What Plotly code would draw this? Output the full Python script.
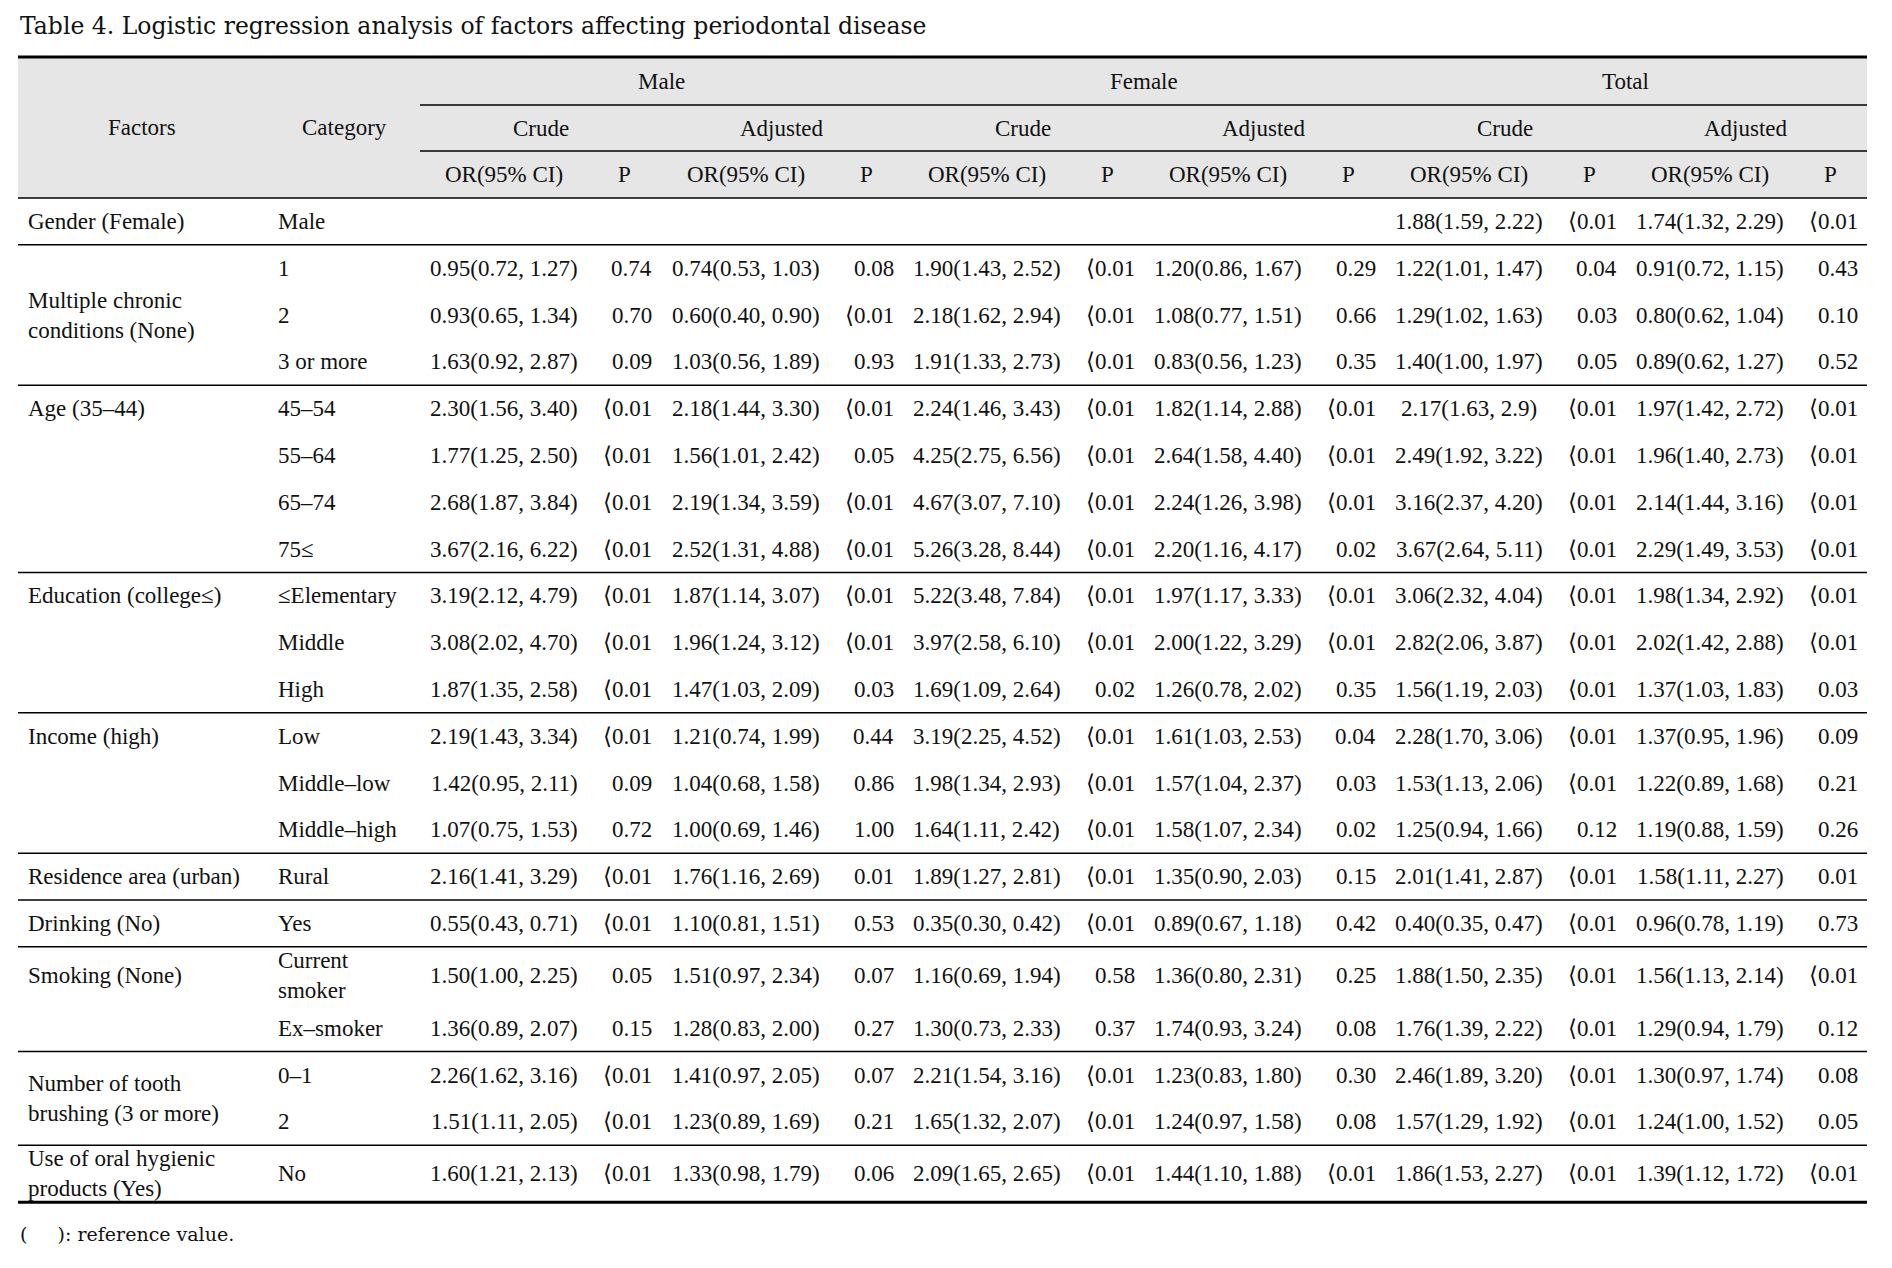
import plotly.graph_objects as go

# ---------------- data ----------------
title_text = "Table 4. Logistic regression analysis of factors affecting periodontal disease"
footnote_text = "(\u00a0\u00a0\u00a0\u00a0\u00a0): reference value."

groups = ["Male", "Female", "Total"]
subgroups = ["Crude", "Adjusted"]
col_heads = ["OR(95% CI)", "P"]
factor_head = "Factors"
category_head = "Category"

factors = ["Gender (Female)", "Multiple chronic<br>conditions (None)", "Age (35\u201344)",
           "Education (college\u2264)", "Income (high)", "Residence area (urban)",
           "Drinking (No)", "Smoking (None)", "Number of tooth<br>brushing (3 or more)",
           "Use of oral hygienic<br>products (Yes)"]
factor_spans = [1, 3, 4, 3, 3, 1, 1, 2, 2, 1]
factor_label_mode = ["center", "center", "top", "top", "top", "center", "center", "top", "center", "center"]

categories = ["Male", "1", "2", "3 or more", "45\u201354", "55\u201364", "65\u201374", "75\u2264",
              "\u2264Elementary", "Middle", "High", "Low", "Middle\u2013low", "Middle\u2013high",
              "Rural", "Yes", "Current<br>smoker", "Ex\u2013smoker", "0\u20131", "2", "No"]

LT = "\u27e8"
male_crude_or = ["", "0.95(0.72, 1.27)", "0.93(0.65, 1.34)", "1.63(0.92, 2.87)", "2.30(1.56, 3.40)",
                 "1.77(1.25, 2.50)", "2.68(1.87, 3.84)", "3.67(2.16, 6.22)", "3.19(2.12, 4.79)",
                 "3.08(2.02, 4.70)", "1.87(1.35, 2.58)", "2.19(1.43, 3.34)", "1.42(0.95, 2.11)",
                 "1.07(0.75, 1.53)", "2.16(1.41, 3.29)", "0.55(0.43, 0.71)", "1.50(1.00, 2.25)",
                 "1.36(0.89, 2.07)", "2.26(1.62, 3.16)", "1.51(1.11, 2.05)", "1.60(1.21, 2.13)"]
male_crude_p = ["", "0.74", "0.70", "0.09", "<0.01", "<0.01", "<0.01", "<0.01", "<0.01", "<0.01",
                "<0.01", "<0.01", "0.09", "0.72", "<0.01", "<0.01", "0.05", "0.15", "<0.01", "<0.01", "<0.01"]
male_adj_or = ["", "0.74(0.53, 1.03)", "0.60(0.40, 0.90)", "1.03(0.56, 1.89)", "2.18(1.44, 3.30)",
               "1.56(1.01, 2.42)", "2.19(1.34, 3.59)", "2.52(1.31, 4.88)", "1.87(1.14, 3.07)",
               "1.96(1.24, 3.12)", "1.47(1.03, 2.09)", "1.21(0.74, 1.99)", "1.04(0.68, 1.58)",
               "1.00(0.69, 1.46)", "1.76(1.16, 2.69)", "1.10(0.81, 1.51)", "1.51(0.97, 2.34)",
               "1.28(0.83, 2.00)", "1.41(0.97, 2.05)", "1.23(0.89, 1.69)", "1.33(0.98, 1.79)"]
male_adj_p = ["", "0.08", "<0.01", "0.93", "<0.01", "0.05", "<0.01", "<0.01", "<0.01", "<0.01",
              "0.03", "0.44", "0.86", "1.00", "0.01", "0.53", "0.07", "0.27", "0.07", "0.21", "0.06"]
female_crude_or = ["", "1.90(1.43, 2.52)", "2.18(1.62, 2.94)", "1.91(1.33, 2.73)", "2.24(1.46, 3.43)",
                   "4.25(2.75, 6.56)", "4.67(3.07, 7.10)", "5.26(3.28, 8.44)", "5.22(3.48, 7.84)",
                   "3.97(2.58, 6.10)", "1.69(1.09, 2.64)", "3.19(2.25, 4.52)", "1.98(1.34, 2.93)",
                   "1.64(1.11, 2.42)", "1.89(1.27, 2.81)", "0.35(0.30, 0.42)", "1.16(0.69, 1.94)",
                   "1.30(0.73, 2.33)", "2.21(1.54, 3.16)", "1.65(1.32, 2.07)", "2.09(1.65, 2.65)"]
female_crude_p = ["", "<0.01", "<0.01", "<0.01", "<0.01", "<0.01", "<0.01", "<0.01", "<0.01", "<0.01",
                  "0.02", "<0.01", "<0.01", "<0.01", "<0.01", "<0.01", "0.58", "0.37", "<0.01", "<0.01", "<0.01"]
female_adj_or = ["", "1.20(0.86, 1.67)", "1.08(0.77, 1.51)", "0.83(0.56, 1.23)", "1.82(1.14, 2.88)",
                 "2.64(1.58, 4.40)", "2.24(1.26, 3.98)", "2.20(1.16, 4.17)", "1.97(1.17, 3.33)",
                 "2.00(1.22, 3.29)", "1.26(0.78, 2.02)", "1.61(1.03, 2.53)", "1.57(1.04, 2.37)",
                 "1.58(1.07, 2.34)", "1.35(0.90, 2.03)", "0.89(0.67, 1.18)", "1.36(0.80, 2.31)",
                 "1.74(0.93, 3.24)", "1.23(0.83, 1.80)", "1.24(0.97, 1.58)", "1.44(1.10, 1.88)"]
female_adj_p = ["", "0.29", "0.66", "0.35", "<0.01", "<0.01", "<0.01", "0.02", "<0.01", "<0.01",
                "0.35", "0.04", "0.03", "0.02", "0.15", "0.42", "0.25", "0.08", "0.30", "0.08", "<0.01"]
total_crude_or = ["1.88(1.59, 2.22)", "1.22(1.01, 1.47)", "1.29(1.02, 1.63)", "1.40(1.00, 1.97)",
                  "2.17(1.63, 2.9)", "2.49(1.92, 3.22)", "3.16(2.37, 4.20)", "3.67(2.64, 5.11)",
                  "3.06(2.32, 4.04)", "2.82(2.06, 3.87)", "1.56(1.19, 2.03)", "2.28(1.70, 3.06)",
                  "1.53(1.13, 2.06)", "1.25(0.94, 1.66)", "2.01(1.41, 2.87)", "0.40(0.35, 0.47)",
                  "1.88(1.50, 2.35)", "1.76(1.39, 2.22)", "2.46(1.89, 3.20)", "1.57(1.29, 1.92)",
                  "1.86(1.53, 2.27)"]
total_crude_p = ["<0.01", "0.04", "0.03", "0.05", "<0.01", "<0.01", "<0.01", "<0.01", "<0.01", "<0.01",
                 "<0.01", "<0.01", "<0.01", "0.12", "<0.01", "<0.01", "<0.01", "<0.01", "<0.01", "<0.01", "<0.01"]
total_adj_or = ["1.74(1.32, 2.29)", "0.91(0.72, 1.15)", "0.80(0.62, 1.04)", "0.89(0.62, 1.27)",
                "1.97(1.42, 2.72)", "1.96(1.40, 2.73)", "2.14(1.44, 3.16)", "2.29(1.49, 3.53)",
                "1.98(1.34, 2.92)", "2.02(1.42, 2.88)", "1.37(1.03, 1.83)", "1.37(0.95, 1.96)",
                "1.22(0.89, 1.68)", "1.19(0.88, 1.59)", "1.58(1.11, 2.27)", "0.96(0.78, 1.19)",
                "1.56(1.13, 2.14)", "1.29(0.94, 1.79)", "1.30(0.97, 1.74)", "1.24(1.00, 1.52)",
                "1.39(1.12, 1.72)"]
total_adj_p = ["<0.01", "0.43", "0.10", "0.52", "<0.01", "<0.01", "<0.01", "<0.01", "<0.01", "<0.01",
               "0.03", "0.09", "0.21", "0.26", "0.01", "0.73", "<0.01", "0.12", "0.08", "0.05", "<0.01"]

value_columns = [
    (male_crude_or, male_crude_p), (male_adj_or, male_adj_p),
    (female_crude_or, female_crude_p), (female_adj_or, female_adj_p),
    (total_crude_or, total_crude_p), (total_adj_or, total_adj_p),
]

# ---------------- layout constants ----------------
W, H = 1892, 1268
FONT = "Liberation Serif"
TITLE_FONT = "DejaVu Serif"
FS = 23
INK = "#111111"
TBL_L, TBL_R = 18, 1867
TOP, SUB1, SUB2, HDR_BOT = 57, 105, 151, 198
GRP_L = 420
STD_H = 46.8
row_heights = [STD_H] * 16 + [58, STD_H, STD_H, STD_H, 57]
FACTOR_X, CAT_X = 26, 276
FACTOR_HEAD_X, CAT_HEAD_X = 142, 344
OR_FRAC, PH_FRAC, PV_FRAC = 0.35, 0.85, 0.972

sub_w = (TBL_R - GRP_L) / 6.0

# row boundaries
bounds = [HDR_BOT]
for h in row_heights:
    bounds.append(bounds[-1] + h)
centers = [(bounds[i] + bounds[i + 1]) / 2 for i in range(len(row_heights))]

fig = go.Figure()
fig.add_trace(go.Scatter(x=[0, W], y=[0, H], mode="markers", marker=dict(opacity=0), hoverinfo="skip", showlegend=False))

ann = []
shapes = []

def text(x, y, s, anchor="center", size=FS, family=FONT, yanchor="middle"):
    ann.append(dict(x=x, y=y, xref="x", yref="y", text=s, showarrow=False, xanchor=anchor,
                    yanchor=yanchor, font=dict(family=family, size=size, color=INK),
                    align="left" if anchor == "left" else "center"))

def hline(y, x0, x1, w):
    shapes.append(dict(type="line", xref="x", yref="y", x0=x0, x1=x1, y0=y, y1=y,
                       line=dict(color="#000000", width=w)))

# header background
shapes.append(dict(type="rect", xref="x", yref="y", x0=TBL_L, x1=TBL_R, y0=TOP, y1=HDR_BOT,
                   fillcolor="#e6e6e6", line=dict(width=0), layer="below"))

# title & footnote
text(TBL_L, 26, title_text, anchor="left", size=23.5, family=TITLE_FONT)
text(TBL_L, 1234, footnote_text, anchor="left", size=19, family=TITLE_FONT)

# header
text(FACTOR_HEAD_X, (TOP + HDR_BOT) / 2, factor_head)
text(CAT_HEAD_X, (TOP + HDR_BOT) / 2, category_head)
for gi, g in enumerate(groups):
    gx0 = GRP_L + gi * 2 * sub_w
    text(gx0 + sub_w, (TOP + SUB1) / 2, g)
    for si, s in enumerate(subgroups):
        sx0 = gx0 + si * sub_w
        text(sx0 + sub_w / 2, (SUB1 + SUB2) / 2, s)
        text(sx0 + OR_FRAC * sub_w, (SUB2 + HDR_BOT) / 2, col_heads[0])
        text(sx0 + PH_FRAC * sub_w, (SUB2 + HDR_BOT) / 2, col_heads[1])

# body
r = 0
group_ends = []
for fi, f in enumerate(factors):
    n = factor_spans[fi]
    if factor_label_mode[fi] == "top":
        fy = centers[r]
    else:
        fy = (bounds[r] + bounds[r + n]) / 2
    text(FACTOR_X, fy, f, anchor="left")
    r += n
    group_ends.append(r)

for i, c in enumerate(categories):
    text(CAT_X, centers[i], c, anchor="left")
    for ci, (orv, pv) in enumerate(value_columns):
        sx0 = GRP_L + ci * sub_w
        if orv[i]:
            text(sx0 + OR_FRAC * sub_w, centers[i], orv[i])
        if pv[i]:
            text(sx0 + PV_FRAC * sub_w, centers[i], pv[i].replace("<", LT), anchor="right")

# rules
hline(TOP, TBL_L, TBL_R, 3)
hline(SUB1, GRP_L, TBL_R, 1.5)
hline(SUB2, GRP_L, TBL_R, 1.5)
hline(HDR_BOT, TBL_L, TBL_R, 1.5)
for e in group_ends[:-1]:
    hline(bounds[e], TBL_L, TBL_R, 1.5)
hline(bounds[group_ends[-1]], TBL_L, TBL_R, 3)

fig.update_layout(
    width=W, height=H, margin=dict(l=0, r=0, t=0, b=0),
    paper_bgcolor="white", plot_bgcolor="white",
    xaxis=dict(range=[0, W], visible=False, fixedrange=True),
    yaxis=dict(range=[H, 0], visible=False, fixedrange=True),
    annotations=ann, shapes=shapes, showlegend=False,
)

fig.write_html("out.html", config={"displayModeBar": False},
               post_script="document.body.style.margin='0px';document.body.style.overflow='hidden';")
